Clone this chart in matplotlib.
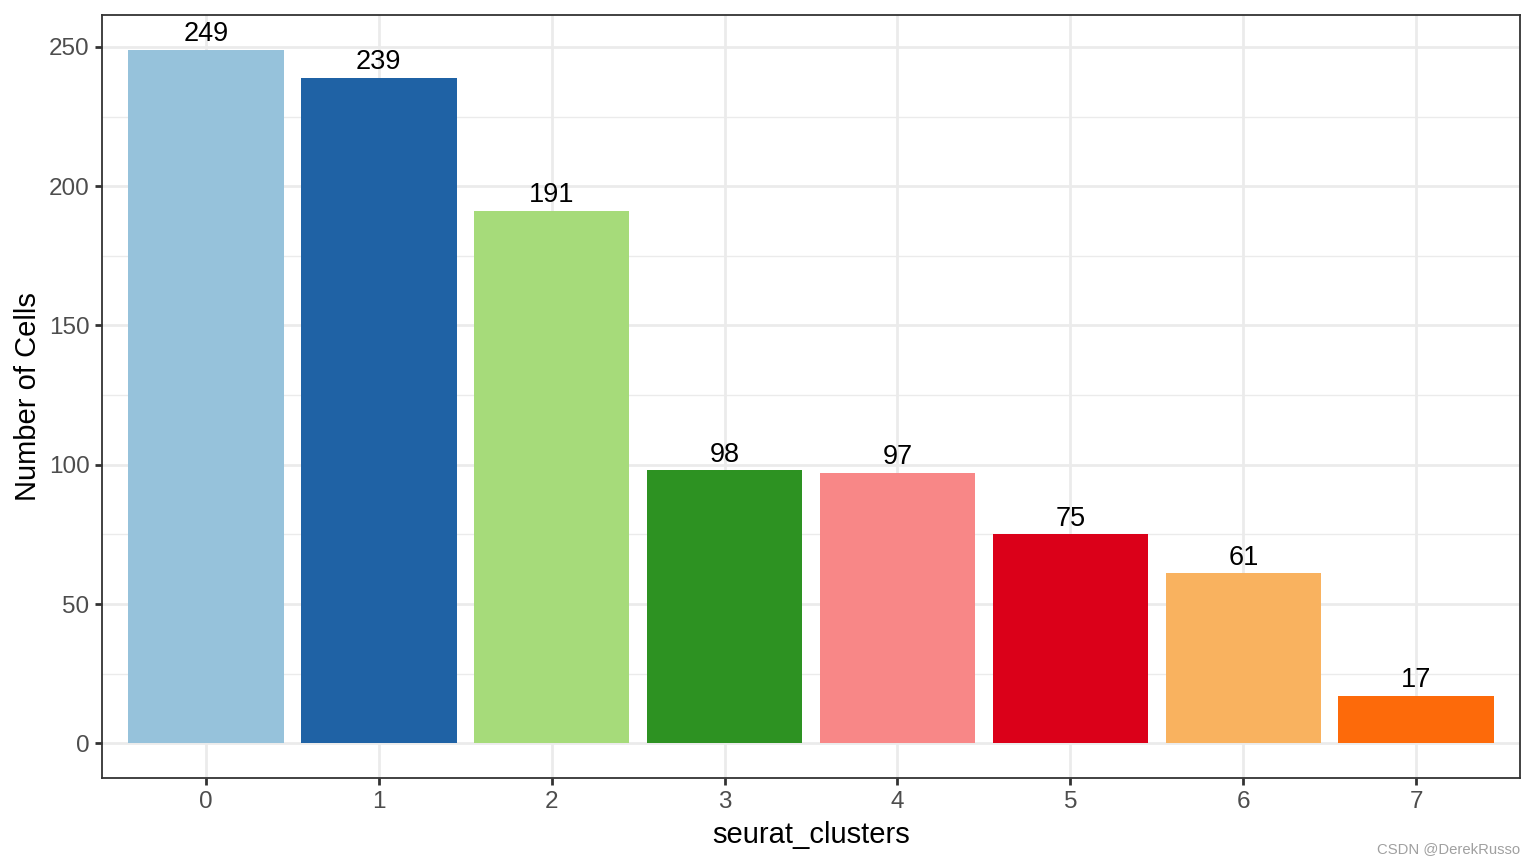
import matplotlib
matplotlib.use("Agg")
import matplotlib.pyplot as plt
from matplotlib.ticker import MultipleLocator

clusters = ["0", "1", "2", "3", "4", "5", "6", "7"]
counts = [249, 239, 191, 98, 97, 75, 61, 17]
colors = ["#96C2DB", "#1F62A5", "#A6DB7A", "#2D9222", "#F88787", "#DB0019", "#F9B25F", "#FD6A0A"]
yticks = [0, 50, 100, 150, 200, 250]

plt.rcParams['font.family'] = ['Liberation Sans', 'DejaVu Sans']

fig = plt.figure(figsize=(15.36, 8.64), dpi=100)
ax = fig.add_axes([102/1536, 1-778/864, (1520-102)/1536, (778-15)/864])

x = list(range(len(clusters)))
ax.bar(x, counts, width=0.9, color=colors, zorder=3)
for xi, v in zip(x, counts):
    ax.annotate(str(v), (xi, v), xytext=(0, 2), textcoords="offset points",
                ha="center", va="bottom", fontsize=19.5, color="black", zorder=4)

ax.set_xlim(-0.6, 7.6)
ax.set_ylim(-12.45, 261.45)
ax.set_xticks(x)
ax.set_xticklabels(clusters)
ax.set_yticks(yticks)
ax.yaxis.set_minor_locator(MultipleLocator(25))
ax.grid(which="major", color="#EBEBEB", linewidth=2.0, zorder=0)
ax.grid(which="minor", axis="y", color="#EBEBEB", linewidth=1.0, zorder=0)
ax.tick_params(which="minor", length=0)
ax.tick_params(which="major", length=5, width=2, color="#333333",
               labelsize=17.5, labelcolor="#4D4D4D", pad=4)
for s in ax.spines.values():
    s.set_color("#333333")
    s.set_linewidth(1.3)

ax.set_xlabel("seurat_clusters", fontsize=21, labelpad=6)
ax.set_ylabel("Number of Cells", fontsize=21, labelpad=5)

fig.text(1520/1536, 1-849/864, "CSDN @DerekRusso", ha="right", va="center",
         fontsize=10.7, color="#A0A0A0")

fig.savefig("out.png", dpi=100)
